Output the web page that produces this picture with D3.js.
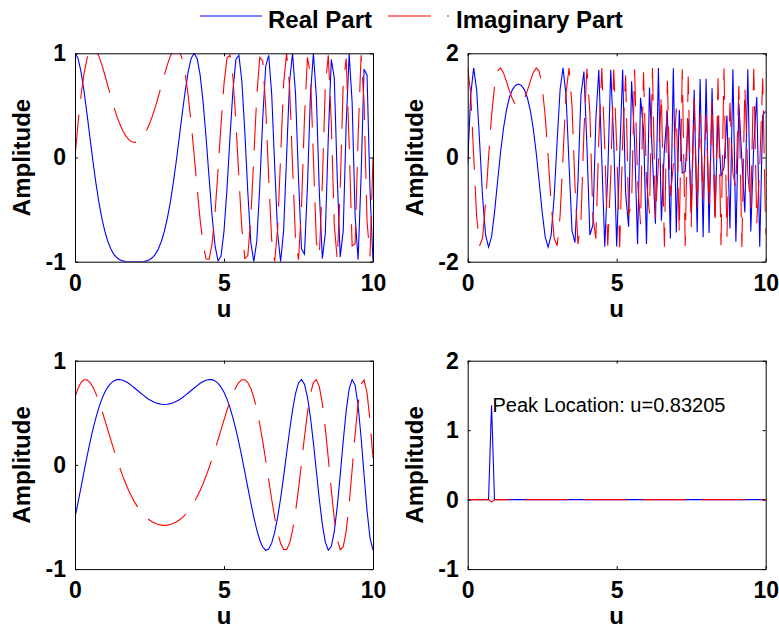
<!DOCTYPE html>
<html lang="en">
<head>
<meta charset="UTF-8"/>
<title>Real and Imaginary Parts</title>
<script src="https://d3js.org/d3.v7.min.js"></script>
<style>
  body { margin: 0; background: #fff; }
  text { font-family: "Liberation Sans", Arial, sans-serif; }
</style>
</head>
<body>
<script>
// sample positions
var u = [0,0.1,0.2,0.3,0.4,0.5,0.6,0.7,0.8,0.9,
  1,1.1,1.2,1.3,1.4,1.5,1.6,1.7,1.8,1.9,
  2,2.1,2.2,2.3,2.4,2.5,2.6,2.7,2.8,2.9,
  3,3.1,3.2,3.3,3.4,3.5,3.6,3.7,3.8,3.9,
  4,4.1,4.2,4.3,4.4,4.5,4.6,4.7,4.8,4.9,
  5,5.1,5.2,5.3,5.4,5.5,5.6,5.7,5.8,5.9,
  6,6.1,6.2,6.3,6.4,6.5,6.6,6.7,6.8,6.9,
  7,7.1,7.2,7.3,7.4,7.5,7.6,7.7,7.8,7.9,
  8,8.1,8.2,8.3,8.4,8.5,8.6,8.7,8.8,8.9,
  9,9.1,9.2,9.3,9.4,9.5,9.6,9.7,9.8,9.9,
  10];

// panel 1 (top left)
var real1 = [1,.954,.827,.643,.426,.195,-.031,-.241,-.426,-.581,
  -.707,-.804,-.876,-.927,-.960,-.981,-.992,-.998,-1,-1,
  -1,-1,-1,-.998,-.992,-.981,-.960,-.927,-.876,-.804,
  -.707,-.581,-.426,-.241,-.031,.195,.426,.643,.827,.954,
  1,.949,.790,.529,.187,-.195,-.562,-.848,-.992,-.949,
  -.707,-.302,.187,.643,.941,.981,.729,.241,-.339,-.814,
  -1,-.804,-.279,.375,.876,.981,.613,-.071,-.729,-1,
  -.707,.008,.729,.998,.613,-.195,-.876,-.927,-.279,.594,
  1,.581,-.339,-.970,-.729,.195,.941,.765,-.187,-.954,
  -.707,.317,.992,.529,-.562,-.981,-.187,.848,.790,-.317,
  -1];
var imag1 = [0,.325,.590,.798,.944,1.027,1.053,1.031,.975,.892,
  .794,.690,.587,.488,.400,.323,.259,.210,.173,.152,
  .145,.152,.173,.210,.259,.323,.400,.488,.587,.690,
  .794,.892,.975,1.031,1.053,1.027,.944,.798,.590,.325,
  .019,-.302,-.601,-.838,-.974,-.975,-.827,-.529,-.125,.317,
  .707,.954,.982,.765,.339,-.195,-.685,-.970,-.941,-.581,
  0,.594,.960,.927,.482,-.195,-.790,-.998,-.685,.008,
  .707,1,.685,-.071,-.790,-.981,-.482,.375,.960,.804,
  0,-.814,-.941,-.241,.685,.981,.339,-.643,-.982,-.302,
  .707,.949,.125,-.848,-.827,.195,.982,.529,-.613,-.949,
  0];

// panel 2 (top right)
var real2 = [-.116,1.193,1.720,1.300,.297,-.762,-1.484,-1.720,-1.524,-1.052,
  -.474,.086,.555,.908,1.151,1.303,1.384,1.410,1.384,1.303,
  1.151,.908,.555,.086,-.474,-1.052,-1.524,-1.720,-1.484,-.762,
  .297,1.300,1.720,1.193,-.116,-1.402,-1.633,-.451,1.200,1.649,
  .246,-1.488,-1.299,.724,1.684,-.043,-1.711,-.311,1.683,.318,
  -1.709,.021,1.690,-.689,-1.328,1.461,.305,-1.667,1.145,.530,
  -1.659,1.343,-.012,-1.272,1.718,-1.213,.163,.887,-1.554,1.713,
  -1.441,.911,-.298,-.272,.735,-1.074,1.298,-1.434,1.506,-1.530,
  1.513,-1.450,1.327,-1.119,.802,-.361,-.195,.807,-1.363,1.692,
  -1.618,1.036,-.031,-1.055,1.692,-1.420,.242,1.160,-1.711,.806,
  .892];
var imag2 = [1.716,1.239,.033,-1.127,-1.694,-1.542,-.869,.003,.798,1.360,
  1.654,1.718,1.628,1.461,1.278,1.123,1.021,.985,1.021,1.123,
  1.278,1.461,1.628,1.718,1.654,1.360,.798,.003,-.869,-1.542,
  -1.694,-1.127,.033,1.239,1.716,.996,-.539,-1.660,-1.233,.490,
  1.702,.862,-1.127,-1.560,.349,1.719,.178,-1.692,-.357,1.690,
  .193,-1.720,.320,1.576,-1.093,-.907,1.693,-.425,-1.284,1.636,
  -.453,-1.074,1.720,-1.158,-.086,1.220,-1.712,1.474,-.737,-.160,
  .940,-1.459,1.694,-1.698,1.555,-1.343,1.129,-.949,.831,-.787,
  .818,-.925,1.094,-1.306,1.522,-1.682,1.709,-1.519,1.050,-.308,
  -.585,1.373,-1.720,1.358,-.310,-.970,1.703,-1.270,-.173,1.520,
  -1.471];

// panel 3 (bottom left)
var real3 = [-.502,-.365,-.219,-.070,.075,.213,.339,.452,.550,.631,
  .697,.747,.783,.806,.818,.820,.813,.800,.783,.761,
  .738,.714,.690,.667,.645,.626,.610,.597,.588,.582,
  .580,.582,.588,.597,.610,.626,.645,.667,.690,.714,
  .738,.761,.783,.800,.813,.820,.818,.806,.783,.747,
  .697,.631,.550,.452,.339,.213,.075,-.070,-.219,-.365,
  -.502,-.623,-.721,-.788,-.819,-.807,-.751,-.648,-.503,-.321,
  -.113,.109,.328,.526,.685,.787,.820,.775,.653,.460,
  .214,-.061,-.334,-.571,-.741,-.818,-.784,-.641,-.401,-.098,
  .226,.518,.729,.819,.765,.570,.266,-.095,-.441,-.702,
  -.817];
var imag3 = [.648,.734,.790,.817,.817,.792,.747,.684,.608,.523,
  .432,.337,.242,.149,.059,-.026,-.105,-.178,-.245,-.304,
  -.357,-.403,-.443,-.477,-.506,-.529,-.548,-.562,-.572,-.578,
  -.580,-.578,-.572,-.562,-.548,-.529,-.506,-.477,-.443,-.403,
  -.357,-.304,-.245,-.178,-.105,-.026,.059,.149,.242,.337,
  .432,.523,.608,.684,.747,.792,.817,.817,.790,.734,
  .648,.533,.391,.226,.045,-.144,-.330,-.502,-.648,-.754,
  -.812,-.813,-.752,-.629,-.451,-.230,.016,.267,.496,.679,
  .792,.818,.749,.588,.350,.063,-.239,-.512,-.715,-.814,
  -.788,-.635,-.375,-.046,.296,.589,.776,.815,.691,.424,
  .064];

// panel 4 (bottom right)
var real4 = [0,0,0,0,0,0,0,0,1.36,0,
  0,0,0,0,0,0,0,0,0,0, 0,0,0,0,0,0,0,0,0,0,
  0,0,0,0,0,0,0,0,0,0, 0,0,0,0,0,0,0,0,0,0,
  0,0,0,0,0,0,0,0,0,0, 0,0,0,0,0,0,0,0,0,0,
  0,0,0,0,0,0,0,0,0,0, 0,0,0,0,0,0,0,0,0,0,
  0,0,0,0,0,0,0,0,0,0, 0];
var imag4 = [0,0,0,0,0,0,0,0,-.036,0,
  0,0,0,0,0,0,0,0,0,0, 0,0,0,0,0,0,0,0,0,0,
  0,0,0,0,0,0,0,0,0,0, 0,0,0,0,0,0,0,0,0,0,
  0,0,0,0,0,0,0,0,0,0, 0,0,0,0,0,0,0,0,0,0,
  0,0,0,0,0,0,0,0,0,0, 0,0,0,0,0,0,0,0,0,0,
  0,0,0,0,0,0,0,0,0,0, 0];
var peakU = 0.83205;
var peakLabel = "Peak Location: u=0.83205";

var xTicks = [0, 5, 10];
var yTicks1 = [-1, 0, 1];
var yTicks2 = [-2, 0, 2];
var yTicks4 = [-1, 0, 1, 2];
var legendNames = ["Real Part", "Imaginary Part"];

var W = 779, H = 630;
var pw = 298, ph = 208.4;
var blue = "#0000ff", red = "#ff0000";
var dash = "43,16";

var svg = d3.select("body").append("svg").attr("width", W).attr("height", H);

function boldText(sel, size) {
  return sel.attr("font-family", "'Liberation Sans', Arial, sans-serif")
    .attr("font-weight", "bold").attr("font-size", size).attr("fill", "#000");
}

// plain labels: "1", "0", "-1" with an ascii hyphen
function plain(d) { return String(d); }

function drawPanel(id, re, im, yDom, yT, left, top) {
  var x = d3.scaleLinear().domain([0, 10]).range([left, left + pw]);
  var y = d3.scaleLinear().domain(yDom).range([top + ph, top]);
  var g = svg.append("g");

  g.append("clipPath").attr("id", "clip" + id)
    .append("rect").attr("x", left).attr("y", top).attr("width", pw).attr("height", ph);

  var line = d3.line()
    .x(function(d, i) { return x(u[i]); })
    .y(function(d) { return y(d); });

  var plot = g.append("g").attr("clip-path", "url(#clip" + id + ")");
  plot.append("path").datum(re).attr("d", line)
    .attr("fill", "none").attr("stroke", blue).attr("stroke-width", 1.1);
  plot.append("path").datum(im).attr("d", line)
    .attr("fill", "none").attr("stroke", red).attr("stroke-width", 1.1)
    .attr("stroke-dasharray", dash);

  // box with inward ticks
  var ax = [
    g.append("g").attr("transform", "translate(0," + (top + ph) + ")")
      .call(d3.axisBottom(x).tickValues(xTicks).tickFormat(plain)
        .tickSizeInner(-3).tickSizeOuter(0).tickPadding(13)),
    g.append("g").attr("transform", "translate(0," + top + ")")
      .call(d3.axisTop(x).tickValues(xTicks).tickSizeInner(-3).tickSizeOuter(0).tickFormat("")),
    g.append("g").attr("transform", "translate(" + left + ",0)")
      .call(d3.axisLeft(y).tickValues(yT).tickFormat(plain)
        .tickSizeInner(-3).tickSizeOuter(0).tickPadding(9)),
    g.append("g").attr("transform", "translate(" + (left + pw) + ",0)")
      .call(d3.axisRight(y).tickValues(yT).tickSizeInner(-3).tickSizeOuter(0).tickFormat(""))
  ];
  ax.forEach(function(a) {
    a.selectAll("path, line").attr("stroke", "#000").attr("stroke-width", 1);
    boldText(a.selectAll("text"), 23);
    a.attr("font-size", null).attr("font-family", null);
  });

  boldText(g.append("text"), 24)
    .attr("x", left + pw / 2).attr("y", top + ph + 55)
    .attr("text-anchor", "middle").text("u");

  boldText(g.append("text"), 24)
    .attr("transform", "translate(" + (left - 45) + "," + (top + ph / 2) + ") rotate(-90)")
    .attr("text-anchor", "middle").text("Amplitude");

  return { x: x, y: y };
}

var leftA = 75, leftB = 467.7, topA = 53.3, topB = 360.7;
drawPanel(1, real1, imag1, [-1, 1], yTicks1, leftA, topA);
drawPanel(2, real2, imag2, [-2, 2], yTicks2, leftB, topA);
drawPanel(3, real3, imag3, [-1, 1], yTicks1, leftA, topB);
var p4 = drawPanel(4, real4, imag4, [-1, 2], yTicks4, leftB, topB);

svg.append("text")
  .attr("x", p4.x(peakU)).attr("y", p4.y(d3.max(real4)))
  .attr("dy", "0.33em")
  .attr("font-family", "'Liberation Sans', Arial, sans-serif")
  .attr("font-size", 20).attr("fill", "#000")
  .text(peakLabel);

// legend
var lg = svg.append("g");
lg.append("line").attr("x1", 200).attr("x2", 262).attr("y1", 16).attr("y2", 16)
  .attr("stroke", blue).attr("stroke-width", 1.1);
boldText(lg.append("text"), 24).attr("x", 268).attr("y", 28).text(legendNames[0]);
lg.append("line").attr("x1", 388).attr("x2", 449).attr("y1", 16).attr("y2", 16)
  .attr("stroke", red).attr("stroke-width", 1.1).attr("stroke-dasharray", dash);
boldText(lg.append("text"), 24).attr("x", 456).attr("y", 28).text(legendNames[1]);
</script>
</body>
</html>
